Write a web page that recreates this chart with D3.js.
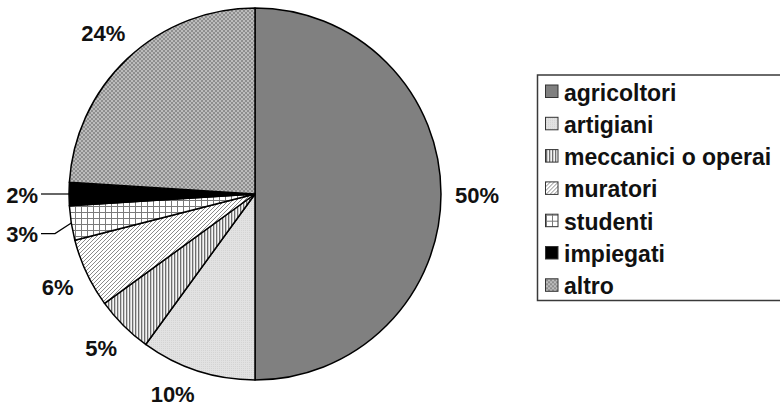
<!DOCTYPE html>
<html>
<head>
<meta charset="utf-8">
<script src="https://cdn.jsdelivr.net/npm/d3@7"></script>
<style>
  html, body { margin: 0; padding: 0; background: #fff; }
  svg { display: block; }
  text { font-family: "Liberation Sans", Arial, sans-serif; font-weight: bold; fill: #111; }
</style>
</head>
<body>
<svg id="chart" width="780" height="405"></svg>
<script>
// Occupational categories and their shares (%)
const categories = ["agricoltori", "artigiani", "meccanici o operai", "muratori", "studenti", "impiegati", "altro"];
const shares = [50, 10, 5, 6, 3, 2, 24];
const shareLabels = ["50%", "10%", "5%", "6%", "3%", "2%", "24%"];

const W = 780, H = 405;
const cx = 255, cy = 194, R = 186;

const svg = d3.select("#chart");
const defs = svg.append("defs");

// Fill patterns, one per category
function pat(id, w, h, draw) {
  const p = defs.append("pattern").attr("id", id)
    .attr("patternUnits", "userSpaceOnUse").attr("width", w).attr("height", h);
  draw(p);
}
pat("p-art", 2, 2, p => {
  p.append("rect").attr("width", 2).attr("height", 2).attr("fill", "#e2e2e2");
  p.append("rect").attr("width", 1).attr("height", 1).attr("fill", "#d4d4d4");
});
pat("p-mec", 3, 3, p => {
  p.append("rect").attr("width", 3).attr("height", 3).attr("fill", "#f4f4f4");
  p.append("rect").attr("x", 0).attr("width", 1.3).attr("height", 3).attr("fill", "#6e6e6e");
});
pat("p-mur", 4, 4, p => {
  p.append("rect").attr("width", 4).attr("height", 4).attr("fill", "#fff");
  p.append("path").attr("d", "M-1,1 L1,-1 M0,4 L4,0 M3,5 L5,3")
    .attr("stroke", "#8a8a8a").attr("stroke-width", 1);
});
pat("p-stu", 6, 6, p => {
  p.append("rect").attr("width", 6).attr("height", 6).attr("fill", "#fff");
  p.append("path").attr("d", "M0,0.5 H6 M0.5,0 V6")
    .attr("stroke", "#7a7a7a").attr("stroke-width", 1);
});
pat("p-alt", 4, 4, p => {
  p.append("rect").attr("width", 4).attr("height", 4).attr("fill", "#bcbcbc");
  p.append("rect").attr("width", 2).attr("height", 2).attr("fill", "#8e8e8e");
  p.append("rect").attr("x", 2).attr("y", 2).attr("width", 2).attr("height", 2).attr("fill", "#8e8e8e");
});

const fills = d3.scaleOrdinal()
  .domain(categories)
  .range(["#808080", "url(#p-art)", "url(#p-mec)", "url(#p-mur)", "url(#p-stu)", "#000000", "url(#p-alt)"]);

const data = categories.map((c, i) => ({ cat: c, value: shares[i], label: shareLabels[i] }));

const pie = d3.pie().sort(null).value(d => d.value).startAngle(0).endAngle(2 * Math.PI);
const arcs = pie(data);
const arc = d3.arc().innerRadius(0).outerRadius(R);

const g = svg.append("g").attr("transform", `translate(${cx},${cy})`);

g.selectAll("path.slice").data(arcs).enter().append("path")
  .attr("class", "slice")
  .attr("d", arc)
  .attr("fill", d => fills(d.data.cat))
  .attr("stroke", "#000")
  .attr("stroke-width", 1.5)
  .attr("stroke-linejoin", "round");

// Percentage labels, placed outside the rim
const fontSize = 22;
const labelG = g.append("g");
arcs.forEach(d => {
  const a = (d.startAngle + d.endAngle) / 2;
  const dx = Math.sin(a), dy = -Math.cos(a);
  const t = labelG.append("text")
    .attr("font-size", fontSize)
    .attr("dominant-baseline", "central")
    .text(d.data.label);
  const w = t.node().getComputedTextLength();
  const hh = 9;

  if (d.data.value < 4) {
    // small slices: label pushed out with an elbow leader line
    const ex = dx * R, ey = dy * R;
    const ly = dy * (R + 67);
    const side = dx < 0 ? -1 : 1;
    const bx = side * (R + 14);
    const endX = bx + side * 14;
    labelG.append("path")
      .attr("d", `M${ex},${ey} L${bx},${ly} L${endX},${ly}`)
      .attr("fill", "none").attr("stroke", "#000").attr("stroke-width", 1.2);
    t.attr("x", endX + side * 3).attr("y", ly + 1)
      .attr("text-anchor", side < 0 ? "end" : "start");
  } else {
    const support = Math.abs(dx) * w / 2 + Math.abs(dy) * hh;
    const D = R + 14 + support;
    let lx = dx * D, ly = dy * D;
    // keep labels inside the drawing area, sliding along the same ring
    const maxY = H - cy - 3 - hh;
    if (ly > maxY) {
      ly = maxY;
      lx = Math.sign(dx) * Math.sqrt(Math.max(0, D * D - ly * ly));
    }
    t.attr("x", lx).attr("y", ly + 1).attr("text-anchor", "middle");
  }
});

// Legend
const leg = svg.append("g");
const legX = 537.5, legTop = 75, legBottom = 300.5;
leg.append("rect")
  .attr("x", legX).attr("y", legTop)
  .attr("width", W - legX + 20).attr("height", legBottom - legTop)
  .attr("fill", "#fff").attr("stroke", "#3a3a3a").attr("stroke-width", 1.5);

const rowY = d3.scalePoint().domain(categories).range([91.5, 91.5 + 32.3 * 6]);
const rows = leg.selectAll("g.row").data(categories).enter().append("g")
  .attr("class", "row")
  .attr("transform", c => `translate(0,${rowY(c)})`);
rows.append("rect")
  .attr("x", 545.5).attr("y", -6.5).attr("width", 12.5).attr("height", 12.5)
  .attr("fill", c => fills(c)).attr("stroke", "#333").attr("stroke-width", 1);
rows.append("text")
  .attr("x", 564).attr("y", 1)
  .attr("dominant-baseline", "central")
  .attr("font-size", 23)
  .text(c => c);
</script>
</body>
</html>
